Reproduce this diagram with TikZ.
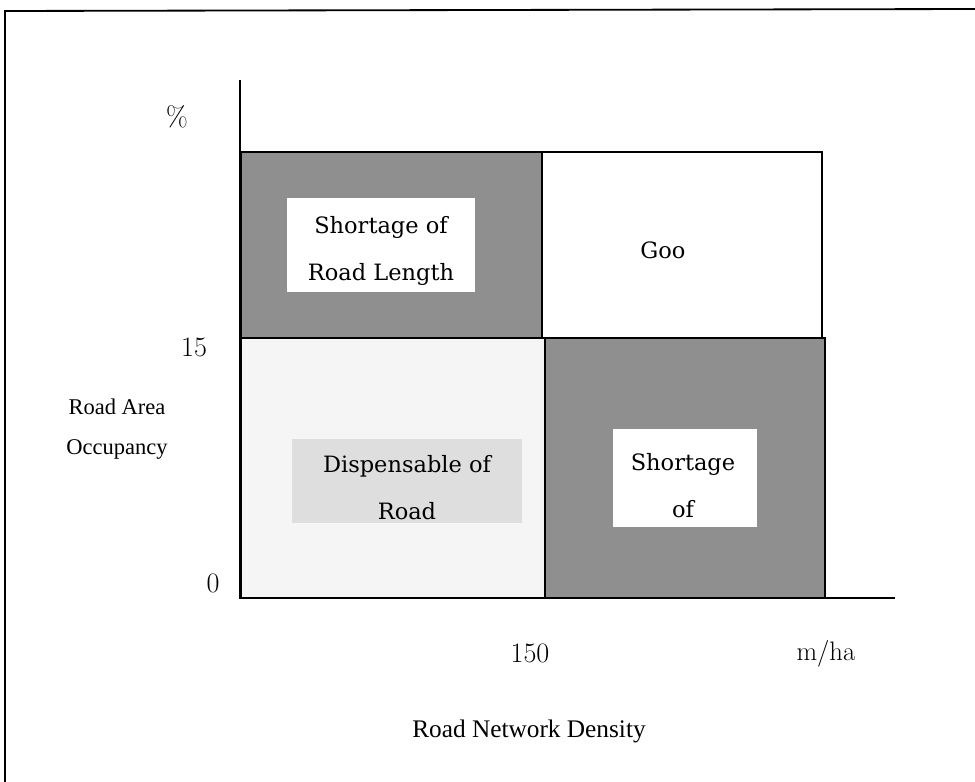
\documentclass[tikz,border=0pt]{standalone}
\usepackage{fontspec}
\newfontfamily\labelfont{Liberation Serif}
\newfontfamily\boxfont{DejaVu Serif}
\usetikzlibrary{positioning}

\begin{document}
\begin{tikzpicture}[x=0.025cm, y=-0.025cm,
  % --- Style definitions ---
  frame/.style={line width=1.3pt, draw=black},
  axis/.style={line width=1.4pt, draw=black},
  darkq/.style={fill=black!44, draw=black, line width=1.3pt},
  lightq/.style={fill=black!4, draw=black, line width=1.3pt},
  plainq/.style={fill=white, draw=black, line width=1.3pt},
  inbox/.style={fill=#1, inner sep=0pt},
  qtext/.style={align=center, font=\boxfont\fontsize{16}{33.5}\selectfont},
  num/.style={font=\fontsize{20}{24}\selectfont},
  ttl/.style={align=center, font=\labelfont\fontsize{16}{28.5}\selectfont},
]
\useasboundingbox (0,0) rectangle (975,782);

% ===== Outer frame =====
\draw[frame] (5,782) -- (5,11) -- (975,9);

% ===== Quadrants =====
\draw[darkq]  (241,152) rectangle (542,338);
\draw[plainq] (542,152) rectangle (822,338);
\draw[lightq] (241,338) rectangle (545,598);
\draw[darkq]  (545,338) rectangle (825,598);

% ===== Axes =====
\draw[axis] (240,80) -- (240,598) -- (895,598);

% ===== Inner boxes =====
\node[inbox=white, minimum width=4.7cm, minimum height=2.35cm] (tlbox) at (381,245) {};
\node[inbox=black!13, minimum width=5.725cm, minimum height=2.075cm] (blbox) at (407,481) {};
\node[inbox=white, minimum width=3.6cm, minimum height=2.425cm] (brbox) at (685,478) {};

% ===== Quadrant labels =====
\node[qtext] (tl) at (381,251) {Shortage of\\Road Length};
\node[qtext] (tr) at (663,250) {Goo};
\node[qtext] (bl) at (407,488) {Dispensable of\\Road};
\node[qtext] (br) at (683,486) {Shortage\\of};

% ===== Axis ticks and titles =====
\node[num] (pct) at (177,117) {\%};
\node[num] (y15) at (194,347) {15};
\node[num] (y0) at (213,583) {0};
\node[num] (x150) at (530,653) {150};
\node[num, font=\fontsize{19}{22}\selectfont] (unit) at (826,654) {m/ha};
\node[ttl] (ytitle) at (117,429) {Road Area\\Occupancy};
\node[ttl, font=\labelfont\fontsize{18}{20}\selectfont] (xtitle) at (529,731) {Road Network Density};

\end{tikzpicture}
\end{document}
